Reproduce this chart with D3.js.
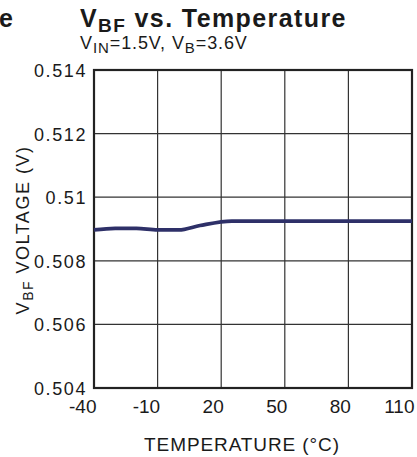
<!DOCTYPE html>
<html><head><meta charset="utf-8">
<script src="https://cdn.jsdelivr.net/npm/d3@7/dist/d3.min.js"></script>
<style>body{margin:0;background:#fff}svg{display:block}text{font-family:"Liberation Sans",Arial,sans-serif;fill:#1a1a1a}</style>
</head><body>
<script>
const temperatures = [-40, -30, -20, -10, 0, 10, 25, 40, 60, 80, 110];
const vbfValues = [0.50897, 0.50902, 0.50902, 0.50897, 0.50897, 0.50911, 0.50925, 0.50925, 0.50925, 0.50925, 0.50925];
const xTicks = [-40, -10, 20, 50, 80, 110];
const yTicks = [0.504, 0.506, 0.508, 0.51, 0.512, 0.514];
const yTickLabels = ["0.504", "0.506", "0.508", "0.51", "0.512", "0.514"];

const W = 417, H = 457;
const svg = d3.select("body").append("svg").attr("width", W).attr("height", H);
const x = d3.scaleLinear().domain([-40, 110]).range([94, 412]);
const y = d3.scaleLinear().domain([0.504, 0.514]).range([388, 70]);

// grid
svg.append("g").selectAll("line").data(xTicks.slice(1, -1)).join("line")
  .attr("x1", d => x(d)).attr("x2", d => x(d)).attr("y1", y(0.514)).attr("y2", y(0.504))
  .attr("stroke", "#333").attr("stroke-width", 1.2);
svg.append("g").selectAll("line").data(yTicks.slice(1, -1)).join("line")
  .attr("x1", x(-40)).attr("x2", x(110)).attr("y1", d => y(d)).attr("y2", d => y(d))
  .attr("stroke", "#333").attr("stroke-width", 1.2);

// y axis labels
const yAxis = d3.axisLeft(y).tickValues(yTicks).tickSize(0).tickPadding(7)
  .tickFormat((d, i) => yTickLabels[i]);
const gy = svg.append("g").attr("transform", `translate(${x(-40)},0)`).call(yAxis);
gy.select(".domain").remove();
gy.selectAll("text").style("font-size", "18px").style("letter-spacing", "1.6px")
  .attr("fill", "#1a1a1a").attr("dy", "0.36em");

// x axis labels
const xAxis = d3.axisBottom(x).tickValues(xTicks).tickSize(0).tickPadding(12)
  .tickFormat(d => String(d));
const gx = svg.append("g").attr("transform", `translate(0,${y(0.504)})`).call(xAxis);
gx.select(".domain").remove();
gx.selectAll("text").style("font-size", "19px")
  .attr("fill", "#1a1a1a").attr("text-anchor", "end").attr("x", 2).attr("dy", "0.71em");

// frame
svg.append("rect").attr("x", x(-40)).attr("y", y(0.514))
  .attr("width", x(110) - x(-40)).attr("height", y(0.504) - y(0.514))
  .attr("fill", "none").attr("stroke", "#222").attr("stroke-width", 2.2);

// data line
const line = d3.line().x((d, i) => x(temperatures[i])).y(d => y(d)).curve(d3.curveMonotoneX);
svg.append("path").datum(vbfValues).attr("d", line)
  .attr("fill", "none").attr("stroke", "#2e3068").attr("stroke-width", 3.8);

// title
const t = svg.append("text").attr("x", 80).attr("y", 27).style("font-size", "25px").style("font-weight", "bold").style("letter-spacing", "1.4px");
t.append("tspan").text("V");
t.append("tspan").text("BF").attr("dy", 5).style("font-size", "19px");
t.append("tspan").text(" vs. Temperature").attr("dy", -5);

svg.append("text").attr("x", 13).attr("y", 27).attr("text-anchor", "end")
  .style("font-size", "25px").style("font-weight", "bold").text("e");

// subtitle
const s = svg.append("text").attr("x", 80).attr("y", 49).style("font-size", "18px").style("letter-spacing", "0.9px");
s.append("tspan").text("V");
s.append("tspan").text("IN").attr("dy", 4).style("font-size", "15px");
s.append("tspan").text("=1.5V, V").attr("dy", -4);
s.append("tspan").text("B").attr("dy", 4).style("font-size", "15px");
s.append("tspan").text("=3.6V").attr("dy", -4);

// x title
svg.append("text").attr("x", 242).attr("y", 451).attr("text-anchor", "middle")
  .style("font-size", "19px").style("letter-spacing", "0.9px").text("TEMPERATURE (°C)");

// y title
const yt = svg.append("text").attr("transform", "translate(29,230) rotate(-90)")
  .attr("text-anchor", "middle").style("font-size", "18px").style("letter-spacing", "1.5px");
yt.append("tspan").text("V");
yt.append("tspan").text("BF").attr("dy", 4).style("font-size", "14px");
yt.append("tspan").text(" VOLTAGE (V)").attr("dy", -4);
</script>
</body></html>
